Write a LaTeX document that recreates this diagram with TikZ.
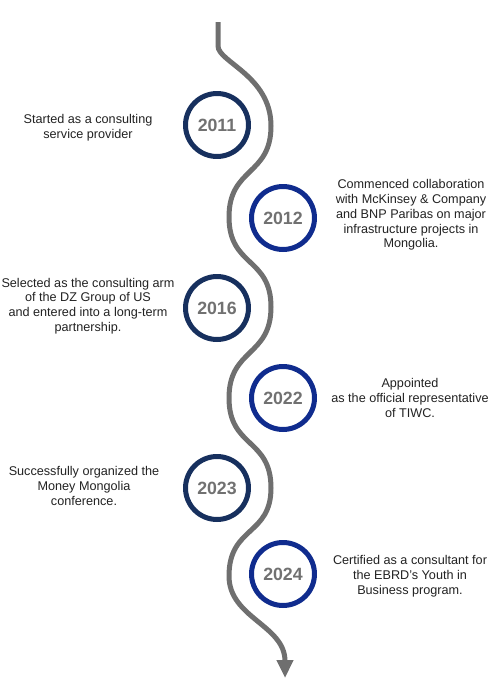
\documentclass[tikz,border=0pt]{standalone}
\usepackage{fontspec}
\setmainfont{Liberation Sans}
\usetikzlibrary{arrows.meta}
\definecolor{navy}{HTML}{17305E}
\definecolor{royal}{HTML}{102C8E}
\definecolor{pathgray}{HTML}{6F6F6F}
\definecolor{yeargray}{HTML}{717171}
\definecolor{txtdark}{HTML}{222222}

\begin{document}
\begin{tikzpicture}[
  x=0.02cm, y=-0.02cm,
  wave/.style={pathgray, line width=0.1cm, -{Triangle[length=0.36cm, width=0.32cm]}},
  year/.style={circle, draw=#1, line width=0.1cm, minimum size=1.26cm, inner sep=0pt,
    text=yeargray, font=\fontsize{10.1}{11}\selectfont\bfseries},
  event/.style={txtdark, align=center, font=\fontsize{7.2}{8.4}\selectfont},
]
\useasboundingbox (0,0) rectangle (500,700);

% ===== Wavy time line =====
\coordinate (w0) at (218,22);
\coordinate (w1) at (218,46);
\coordinate (w2) at (271,126);
\coordinate (w3) at (229,217);
\coordinate (w4) at (271,307);
\coordinate (w5) at (229,398);
\coordinate (w6) at (271,488);
\coordinate (w7) at (229,576);
\coordinate (w8) at (285,678);

\draw[wave] (w0) -- (w1)
  .. controls (218,62) and (271,76) .. (w2)
  .. controls (271,176) and (229,167) .. (w3)
  .. controls (229,267) and (271,257) .. (w4)
  .. controls (271,357) and (229,348) .. (w5)
  .. controls (229,448) and (271,438) .. (w6)
  .. controls (271,536) and (229,526) .. (w7)
  .. controls (229,618) and (285,625) .. (w8);

% ===== 2011 =====
\node[year=navy] (y2011) at (217,125) {2011};
\node[event] (e2011) at (88,128) {Started as a consulting\\service provider};

% ===== 2012 =====
\node[year=royal] (y2012) at (283,218) {2012};
\node[event] (e2012) at (411,215) {Commenced collaboration\\with McKinsey \& Company\\and BNP Paribas on major\\infrastructure projects in\\Mongolia.};

% ===== 2016 =====
\node[year=navy] (y2016) at (217,308) {2016};
\node[event] (e2016) at (88,306) {Selected as the consulting arm\\of the DZ Group of US\\and entered into a long-term\\partnership.};

% ===== 2022 =====
\node[year=royal] (y2022) at (283,398) {2022};
\node[event] (e2022) at (410,398) {Appointed\\as the official representative\\of TIWC.};

% ===== 2023 =====
\node[year=navy] (y2023) at (217,488) {2023};
\node[event] (e2023) at (84,486) {Successfully organized the\\Money Mongolia\\conference.};

% ===== 2024 =====
\node[year=royal] (y2024) at (283,574) {2024};
\node[event] (e2024) at (410,576) {Certified as a consultant for\\the EBRD's Youth in\\Business program.};

\end{tikzpicture}
\end{document}
